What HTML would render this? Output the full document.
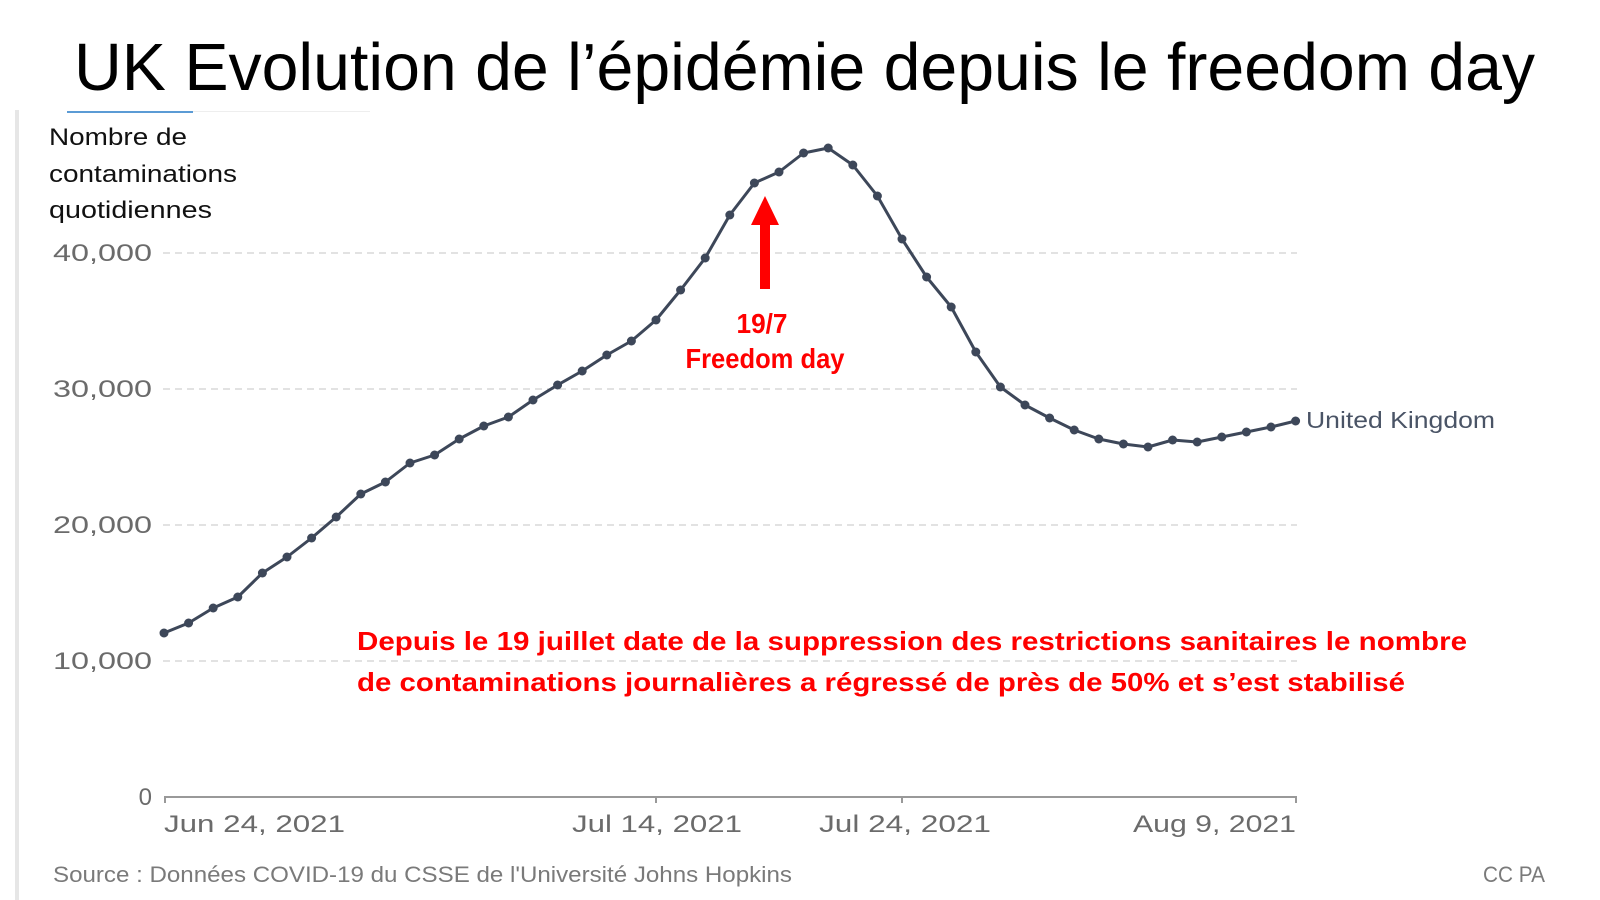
<!DOCTYPE html>
<html>
<head>
<meta charset="utf-8">
<style>
  html, body { margin: 0; padding: 0; background: #ffffff; }
  body { width: 1600px; height: 900px; overflow: hidden; }
  svg { display: block; }
</style>
</head>
<body>
<svg width="1600" height="900" viewBox="0 0 1600 900" xmlns="http://www.w3.org/2000/svg">
  <rect x="0" y="0" width="1600" height="900" fill="#ffffff"/>

  <!-- left border of screenshot -->
  <rect x="15" y="110" width="4" height="790" fill="#e6e6e6"/>
  <!-- top tab remnants -->
  <rect x="67" y="111" width="126" height="2" fill="#5b9bd5"/>
  <rect x="193" y="111" width="177" height="1" fill="#eeeeee"/>

  <!-- Title -->
  <text x="74" y="90" font-family="'Liberation Sans', sans-serif" font-size="67" fill="#000000" textLength="1461" lengthAdjust="spacingAndGlyphs">UK Evolution de l’épidémie depuis le freedom day</text>

  <!-- Y axis caption -->
  <g font-family="'Liberation Sans', sans-serif" font-size="24" fill="#111111">
    <text x="49" y="145" textLength="138" lengthAdjust="spacingAndGlyphs">Nombre de</text>
    <text x="49" y="182" textLength="188" lengthAdjust="spacingAndGlyphs">contaminations</text>
    <text x="49" y="218" textLength="163" lengthAdjust="spacingAndGlyphs">quotidiennes</text>
  </g>

  <!-- gridlines -->
  <g stroke="#d9d9d9" stroke-width="1.5" stroke-dasharray="7 5">
    <line x1="163" y1="253" x2="1297" y2="253"/>
    <line x1="163" y1="389" x2="1297" y2="389"/>
    <line x1="163" y1="525" x2="1297" y2="525"/>
    <line x1="163" y1="661" x2="1297" y2="661"/>
  </g>

  <!-- y tick labels -->
  <g font-family="'Liberation Sans', sans-serif" font-size="24" fill="#6b6b6b" text-anchor="end">
    <text x="152" y="261" textLength="99" lengthAdjust="spacingAndGlyphs">40,000</text>
    <text x="152" y="397" textLength="99" lengthAdjust="spacingAndGlyphs">30,000</text>
    <text x="152" y="533" textLength="99" lengthAdjust="spacingAndGlyphs">20,000</text>
    <text x="152" y="669" textLength="99" lengthAdjust="spacingAndGlyphs">10,000</text>
    <text x="152" y="805">0</text>
  </g>

  <!-- x axis -->
  <g stroke="#999999" stroke-width="2" fill="none">
    <line x1="164" y1="797" x2="1297" y2="797"/>
    <line x1="165" y1="797" x2="165" y2="803"/>
    <line x1="656" y1="797" x2="656" y2="803"/>
    <line x1="902" y1="797" x2="902" y2="803"/>
    <line x1="1296" y1="797" x2="1296" y2="803"/>
  </g>

  <!-- x tick labels -->
  <g font-family="'Liberation Sans', sans-serif" font-size="24" fill="#6b6b6b">
    <text x="164" y="832" textLength="181" lengthAdjust="spacingAndGlyphs">Jun 24, 2021</text>
    <text x="572" y="832" textLength="170" lengthAdjust="spacingAndGlyphs">Jul 14, 2021</text>
    <text x="819" y="832" textLength="172" lengthAdjust="spacingAndGlyphs">Jul 24, 2021</text>
    <text x="1133" y="832" textLength="163" lengthAdjust="spacingAndGlyphs">Aug 9, 2021</text>
  </g>

  <!-- series line -->
  <polyline fill="none" stroke="#3d4759" stroke-width="3" stroke-linejoin="round" stroke-linecap="round"
    points="164,633 188.6,623 213.2,608 237.8,597 262.4,573 287,557 311.6,538 336.2,517 360.8,494 385.4,482 410,463 434.6,455 459.2,439 483.8,426 508.4,417 533,400 557.6,385 582.2,371 606.8,355 631.4,341 656,320 680.6,290 705.2,258 729.8,215 754.4,183 779,172 803.6,153 828.2,148 852.8,165 877.4,196 902,239 926.6,277 951.2,307 975.8,352 1000.4,387 1025,405 1049.6,418 1074.2,430 1098.8,439 1123.4,444 1148,447 1172.6,440 1197.2,442 1221.8,437 1246.4,432 1271,427 1295.6,421"/>

  <!-- series markers -->
  <g fill="#3d4759">
    <circle cx="164" cy="633" r="4.5"/>
    <circle cx="188.6" cy="623" r="4.5"/>
    <circle cx="213.2" cy="608" r="4.5"/>
    <circle cx="237.8" cy="597" r="4.5"/>
    <circle cx="262.4" cy="573" r="4.5"/>
    <circle cx="287" cy="557" r="4.5"/>
    <circle cx="311.6" cy="538" r="4.5"/>
    <circle cx="336.2" cy="517" r="4.5"/>
    <circle cx="360.8" cy="494" r="4.5"/>
    <circle cx="385.4" cy="482" r="4.5"/>
    <circle cx="410" cy="463" r="4.5"/>
    <circle cx="434.6" cy="455" r="4.5"/>
    <circle cx="459.2" cy="439" r="4.5"/>
    <circle cx="483.8" cy="426" r="4.5"/>
    <circle cx="508.4" cy="417" r="4.5"/>
    <circle cx="533" cy="400" r="4.5"/>
    <circle cx="557.6" cy="385" r="4.5"/>
    <circle cx="582.2" cy="371" r="4.5"/>
    <circle cx="606.8" cy="355" r="4.5"/>
    <circle cx="631.4" cy="341" r="4.5"/>
    <circle cx="656" cy="320" r="4.5"/>
    <circle cx="680.6" cy="290" r="4.5"/>
    <circle cx="705.2" cy="258" r="4.5"/>
    <circle cx="729.8" cy="215" r="4.5"/>
    <circle cx="754.4" cy="183" r="4.5"/>
    <circle cx="779" cy="172" r="4.5"/>
    <circle cx="803.6" cy="153" r="4.5"/>
    <circle cx="828.2" cy="148" r="4.5"/>
    <circle cx="852.8" cy="165" r="4.5"/>
    <circle cx="877.4" cy="196" r="4.5"/>
    <circle cx="902" cy="239" r="4.5"/>
    <circle cx="926.6" cy="277" r="4.5"/>
    <circle cx="951.2" cy="307" r="4.5"/>
    <circle cx="975.8" cy="352" r="4.5"/>
    <circle cx="1000.4" cy="387" r="4.5"/>
    <circle cx="1025" cy="405" r="4.5"/>
    <circle cx="1049.6" cy="418" r="4.5"/>
    <circle cx="1074.2" cy="430" r="4.5"/>
    <circle cx="1098.8" cy="439" r="4.5"/>
    <circle cx="1123.4" cy="444" r="4.5"/>
    <circle cx="1148" cy="447" r="4.5"/>
    <circle cx="1172.6" cy="440" r="4.5"/>
    <circle cx="1197.2" cy="442" r="4.5"/>
    <circle cx="1221.8" cy="437" r="4.5"/>
    <circle cx="1246.4" cy="432" r="4.5"/>
    <circle cx="1271" cy="427" r="4.5"/>
    <circle cx="1295.6" cy="421" r="4.5"/>
  </g>

  <!-- series label -->
  <text x="1306" y="428" font-family="'Liberation Sans', sans-serif" font-size="23" fill="#4a5466" textLength="189" lengthAdjust="spacingAndGlyphs">United Kingdom</text>

  <!-- freedom day arrow -->
  <rect x="760" y="222" width="10" height="67" fill="#ff0000"/>
  <polygon points="751,225 779,225 765,196" fill="#ff0000"/>
  <g font-family="'Liberation Sans', sans-serif" font-weight="bold" font-size="28" fill="#ff0000" text-anchor="middle">
    <text x="762" y="333" textLength="51" lengthAdjust="spacingAndGlyphs">19/7</text>
    <text x="765" y="368" textLength="159" lengthAdjust="spacingAndGlyphs">Freedom day</text>
  </g>

  <!-- red annotation -->
  <g font-family="'Liberation Sans', sans-serif" font-weight="bold" font-size="26" fill="#ff0000">
    <text x="357" y="650" textLength="1110" lengthAdjust="spacingAndGlyphs">Depuis le 19 juillet date de la suppression des restrictions sanitaires le nombre</text>
    <text x="357" y="691" textLength="1048" lengthAdjust="spacingAndGlyphs">de contaminations journalières a régressé de près de 50% et s’est stabilisé</text>
  </g>

  <!-- footer -->
  <g font-family="'Liberation Sans', sans-serif" font-size="22" fill="#7a7a7a">
    <text x="53" y="882" textLength="739" lengthAdjust="spacingAndGlyphs">Source : Données COVID-19 du CSSE de l'Université Johns Hopkins</text>
    <text x="1483" y="882" textLength="62" lengthAdjust="spacingAndGlyphs">CC PA</text>
  </g>
</svg>
</body>
</html>
